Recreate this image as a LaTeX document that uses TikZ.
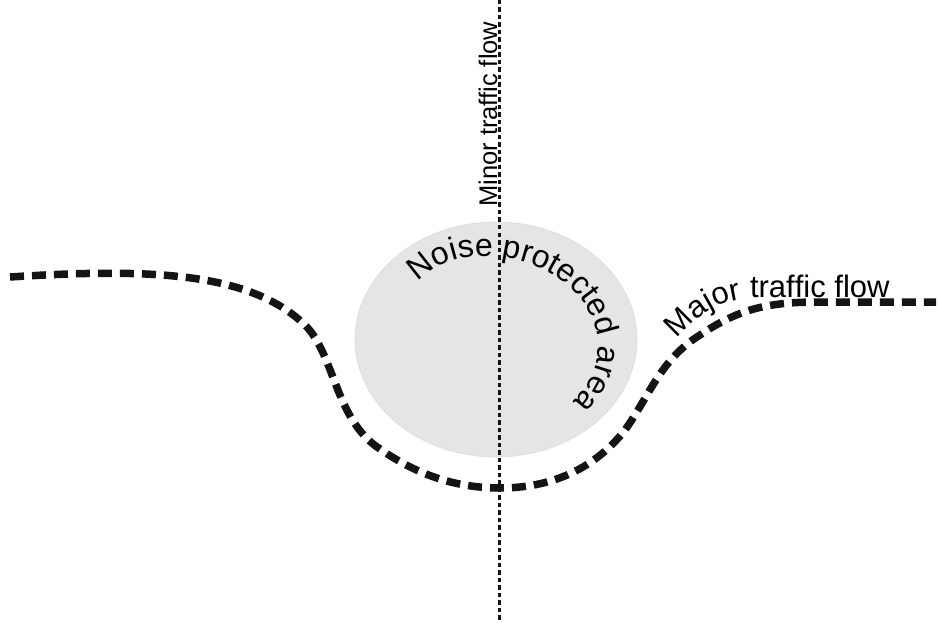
\documentclass[tikz,border=0pt]{standalone}
\usepackage{fontspec}
\setmainfont{Liberation Sans}
\usetikzlibrary{decorations.text}
\begin{document}
\begin{tikzpicture}[x=1pt,y=-1pt,
  road/.style={line width=7.5pt, dash pattern=on 14pt off 8pt, color=black!92},
  lane/.style={line width=3pt, dash pattern=on 4.5pt off 3pt, color=black!92},
  area/.style={fill=gray!20, draw=gray!28, line width=0.6pt},
  curvedlabel/.style={decorate, decoration={text along path,
      text align=left, text={#1}}}]
\useasboundingbox (0,0) rectangle (938,623);

% noise protected area
\path[area] (496,339.5) ellipse [x radius=141, y radius=117.5];

% minor traffic flow (vertical)
\coordinate (minorTop) at (499,0);
\coordinate (minorBot) at (499,623);
\draw[lane] (minorTop) -- (minorBot);
\node[rotate=90, anchor=base west, inner sep=0pt, font=\fontsize{25.5}{30}\selectfont]
  (minorlabel) at (497,207) {Minor traffic flow};

% major traffic flow (curved road)
\coordinate (roadW) at (10,277);
\coordinate (roadE) at (936,302);
\draw[road] (roadW)
  .. controls (150,268) and (250,272) .. (305,325)
  .. controls (335,355) and (335,420) .. (380,449)
  .. controls (420,477) and (460,488) .. (500,488)
  .. controls (560,488) and (600,462) .. (625,430)
  .. controls (650,395) and (660,360) .. (700,335)
  .. controls (740,308) and (770,302) .. (820,302)
  -- (roadE);

% labels following the curves
\path[curvedlabel={|\fontsize{31}{36}\selectfont|Major traffic flow}]
  (677,339) .. controls (699,315) and (719,299) .. (754,298) -- (925,298);
\path[curvedlabel={|\fontsize{32}{38}\selectfont|Noise protected area}]
  (418,282) .. controls (438,262) and (460,256) .. (485,256)
            .. controls (550,256) and (598,300) .. (598,345)
            .. controls (598,370) and (588,390) .. (562,412);
\end{tikzpicture}
\end{document}
